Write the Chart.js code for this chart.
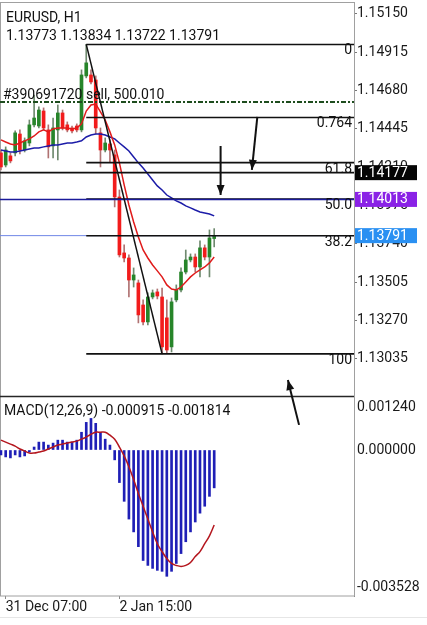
<!DOCTYPE html>
<html>
<head>
<meta charset="utf-8">
<script src="https://cdn.jsdelivr.net/npm/chart.js@4.4.1/dist/chart.umd.min.js"></script>
<style>
  html, body { margin: 0; padding: 0; background: #fff; }
  #wrap { position: relative; width: 427px; height: 617px; border-bottom: 1px solid #e6e6e6; }
</style>
</head>
<body>
<div id="wrap"><canvas id="chart"></canvas></div>
<script>
// EURUSD H1 bars, index 0 = leftmost visible bar
const open = [1.14298, 1.14224, 1.14280, 1.14298, 1.14414, 1.14316, 1.14359, 1.14470, 1.14463, 1.14555,
  1.14439, 1.14341, 1.14439, 1.14543, 1.14470, 1.14451, 1.14463, 1.14439, 1.14770, 1.14776,
  1.14745, 1.14421, 1.14316, 1.14353, 1.14286, 1.14028, 1.13685, 1.13654, 1.13519, 1.13501,
  1.13366, 1.13262, 1.13415, 1.13446, 1.13415, 1.13287, 1.13109, 1.13397, 1.13458, 1.13568,
  1.13642, 1.13660, 1.13599, 1.13716, 1.13660, 1.13773];
const high = [1.14316, 1.14335, 1.14298, 1.14433, 1.14439, 1.14390, 1.14500, 1.14653, 1.14580, 1.14574,
  1.14470, 1.14512, 1.14592, 1.14561, 1.14488, 1.14463, 1.14476, 1.14807, 1.14963, 1.14807,
  1.14770, 1.14451, 1.14390, 1.14378, 1.14316, 1.14071, 1.13734, 1.13673, 1.13593, 1.13519,
  1.13397, 1.13440, 1.13458, 1.13464, 1.13470, 1.13397, 1.13409, 1.13489, 1.13593, 1.13703,
  1.13679, 1.13679, 1.13759, 1.13734, 1.13826, 1.13834];
const low = [1.14194, 1.14212, 1.14237, 1.14280, 1.14292, 1.14304, 1.14341, 1.14457, 1.14451, 1.14439,
  1.14267, 1.14267, 1.14255, 1.14439, 1.14427, 1.14421, 1.14427, 1.14427, 1.14758, 1.14721,
  1.14414, 1.14212, 1.14304, 1.14243, 1.13967, 1.13660, 1.13630, 1.13415, 1.13476, 1.13256,
  1.13244, 1.13244, 1.13403, 1.13403, 1.13066, 1.13072, 1.13078, 1.13385, 1.13446, 1.13556,
  1.13630, 1.13568, 1.13538, 1.13642, 1.13538, 1.13722];
const close = [1.14212, 1.14316, 1.14249, 1.14421, 1.14316, 1.14372, 1.14470, 1.14512, 1.14561, 1.14451,
  1.14335, 1.14451, 1.14543, 1.14451, 1.14439, 1.14433, 1.14439, 1.14776, 1.14850, 1.14733,
  1.14451, 1.14316, 1.14359, 1.14316, 1.14028, 1.13673, 1.13654, 1.13519, 1.13550, 1.13305,
  1.13262, 1.13415, 1.13440, 1.13421, 1.13109, 1.13090, 1.13385, 1.13458, 1.13568, 1.13642,
  1.13660, 1.13599, 1.13716, 1.13660, 1.13777, 1.13791];

// moving averages (red fast, blue slow)
const maFast = [1.14378, 1.14365, 1.14353, 1.14347, 1.14359, 1.14372, 1.14384, 1.14402, 1.14427, 1.14439,
  1.14427, 1.14445, 1.14451, 1.14451, 1.14451, 1.14445, 1.14451, 1.14476, 1.14555, 1.14592,
  1.14598, 1.14549, 1.14500, 1.14427, 1.14347, 1.14237, 1.14102, 1.13979, 1.13875, 1.13783,
  1.13703, 1.13654, 1.13611, 1.13575, 1.13538, 1.13489, 1.13464, 1.13458, 1.13476, 1.13507,
  1.13538, 1.13562, 1.13581, 1.13599, 1.13624, 1.13660];
const maSlow = [1.14316, 1.14310, 1.14304, 1.14304, 1.14310, 1.14316, 1.14322, 1.14328, 1.14328, 1.14335,
  1.14341, 1.14347, 1.14347, 1.14353, 1.14359, 1.14359, 1.14365, 1.14372, 1.14396, 1.14408,
  1.14414, 1.14414, 1.14408, 1.14396, 1.14384, 1.14359, 1.14335, 1.14310, 1.14273, 1.14237,
  1.14206, 1.14169, 1.14132, 1.14096, 1.14071, 1.14040, 1.14022, 1.14004, 1.13991, 1.13973,
  1.13961, 1.13948, 1.13936, 1.13930, 1.13924, 1.13912];

// MACD(12,26,9)
const macd = [-0.000119, -0.000167, -0.000191, -0.000119, -0.000167, -0.000143, -0.000048, 0.000072, 0.000191, 0.000191,
  0.000119, 0.000167, 0.000238, 0.000238, 0.000191, 0.000191, 0.000238, 0.000429, 0.000668, 0.000763,
  0.000644, 0.000429, 0.000262, 0.000119, -0.000238, -0.000787, -0.001240, -0.001669, -0.001979, -0.002336,
  -0.002670, -0.002789, -0.002861, -0.002908, -0.002932, -0.003052, -0.002932, -0.002742, -0.002503, -0.002217,
  -0.001979, -0.001740, -0.001526, -0.001359, -0.001120, -0.000915];
const signal = [0.000238, 0.000191, 0.000143, 0.000095, 0.000024, -0.000024, -0.000072, -0.000072, -0.000048, -0.000024,
  0.000024, 0.000072, 0.000119, 0.000143, 0.000167, 0.000191, 0.000215, 0.000262, 0.000310, 0.000381,
  0.000429, 0.000429, 0.000429, 0.000358, 0.000262, 0.000072, -0.000143, -0.000405, -0.000715, -0.001049,
  -0.001359, -0.001669, -0.001979, -0.002265, -0.002455, -0.002622, -0.002742, -0.002789, -0.002813, -0.002789,
  -0.002718, -0.002575, -0.002455, -0.002265, -0.002074, -0.001814];

// axes
const priceTicks = [1.13035, 1.13270, 1.13505, 1.13740, 1.13975, 1.14210, 1.14445, 1.14680, 1.14915, 1.15150];
const macdTicks = [0.001240, 0.000000, -0.003528];
const timeTickBars = [1, 25];
const timeTickLabels = ['31 Dec 07:00', '2 Jan 15:00'];

// drawn objects
const fibLevels = [0, 0.236, 0.382, 0.5, 0.618, 1];
const fibText = ['0', '0.764', '61.8', '50.0', '38.2', '100'];
const fibHighBar = 18, fibLowBar = 34;
const blackLine = 1.14177;
const blueLine = 1.14013;
const bidPrice = 1.13791;
const orderPrice = 1.14610;
const orderText = '#390691720 sell, 500.010';
// [bar1, price1, bar2, price2], head at the second point
const arrows = [
  [54.1, 1.14519, 52.95, 1.14194],
  [46.35, 1.14341, 46.35, 1.14040],
  [62.9, 1.12631, 60.55, 1.12906]
];
// price tags on the right axis
const tagPrices = [1.14177, 1.14013, 1.13791];
const tagColors = ['#050505', '#8a22e6', '#2a90f2'];

const X_MIN = -0.2, X_MAX = 74.5;
const FONT = 'Roboto, "Noto Sans", sans-serif';

const bars = open.map((o, i) => i);
const pts = arr => arr.map((v, i) => ({ x: i, y: v }));
const seg = (x1, y1, x2, y2) => [{ x: x1, y: y1 }, { x: x2, y: y2 }];
const up = close.map((c, i) => c >= open[i]);

const fibHigh = high[fibHighBar], fibLow = low[fibLowBar];
const fibPrice = fibLevels.map(l => fibHigh - l * (fibHigh - fibLow));

Chart.defaults.elements.point.radius = 0;
Chart.defaults.elements.line.tension = 0;
Chart.defaults.font.family = FONT;

const lineDs = (data, color, width, order, extra) => Object.assign({
  type: 'line', data: data, borderColor: color, borderWidth: width,
  order: order, yAxisID: 'y', clip: false, fill: false
}, extra || {});

let datasets = [];
arrows.forEach(a => datasets.push(lineDs(seg(a[0], a[1], a[2], a[3]), '#111', 2, 1)));
datasets.push(lineDs(seg(fibHighBar, fibHigh, fibLowBar, fibLow), '#111', 1.5, 1));
datasets.push(lineDs(seg(X_MIN, blueLine, X_MAX, blueLine), '#1a1a9a', 1.5, 2));
datasets.push(lineDs(seg(X_MIN, blackLine, X_MAX, blackLine), '#111', 1.7, 2));
fibPrice.forEach(p => datasets.push(lineDs(seg(fibHighBar, p, X_MAX, p), '#111', 1.6, 3)));
datasets.push(lineDs(seg(X_MIN, bidPrice, X_MAX, bidPrice), '#6f86e6', 1, 4));
datasets.push(lineDs(seg(X_MIN, orderPrice, X_MAX, orderPrice), '#1e4d1e', 2, 4, { borderDash: [5, 2, 2, 2] }));
datasets.push(lineDs(pts(maFast), '#e01b1b', 1.5, 5));
datasets.push(lineDs(pts(maSlow), '#1c1ca8', 1.5, 5));
datasets.push({
  type: 'bar', yAxisID: 'y', order: 6, grouped: false, barThickness: 3,
  data: bars.map(i => ({ x: i, y: [open[i], close[i]] })),
  backgroundColor: up.map(u => u ? '#27852a' : '#f21c1c')
});
datasets.push({
  type: 'bar', yAxisID: 'y', order: 7, grouped: false, barThickness: 1,
  data: bars.map(i => ({ x: i, y: [low[i], high[i]] })),
  backgroundColor: up.map(u => u ? '#6f8a6f' : '#b07272')
});
datasets.push({
  type: 'line', yAxisID: 'y2', order: 7, data: pts(signal),
  borderColor: '#b4161e', borderWidth: 1.5, tension: 0.4, fill: false
});
datasets.push({
  type: 'bar', yAxisID: 'y2', order: 8, grouped: false, barThickness: 2,
  data: pts(macd), backgroundColor: '#1f1fb6'
});

const noPad = s => { s.paddingTop = 0; s.paddingBottom = 0; s.paddingLeft = 0; s.paddingRight = 0; };

const overlay = {
  id: 'overlay',
  beforeDatasetsDraw(chart) {
    const c = chart.ctx, a = chart.chartArea, y2 = chart.scales.y2;
    c.save();
    c.strokeStyle = '#a0a0a0';
    c.lineWidth = 1;
    c.strokeRect(a.left + 0.5, a.top - 0.5, a.right - a.left, a.bottom - a.top + 0.5);
    c.strokeStyle = '#262626';
    c.lineWidth = 1.3;
    c.beginPath();
    c.moveTo(a.left, y2.top + 0.5);
    c.lineTo(a.right, y2.top + 0.5);
    c.stroke();
    c.restore();
  },
  afterDraw(chart) {
    const c = chart.ctx, a = chart.chartArea;
    const xs = chart.scales.x, ys = chart.scales.y;
    c.save();
    c.fillStyle = '#111';
    c.font = '14px ' + FONT;
    c.textBaseline = 'alphabetic';
    c.textAlign = 'left';
    c.fillText('EURUSD, H1', 6, 22);
    c.fillText([open[45], high[45], low[45], close[45]].map(v => v.toFixed(5)).join(' '), 6, 40);
    c.fillText(orderText, 3, ys.getPixelForValue(orderPrice) - 3);
    c.fillText('MACD(12,26,9) ' + macd[45].toFixed(6) + ' ' + signal[45].toFixed(6), 4, 415);

    // fibo level captions
    c.textAlign = 'right';
    fibPrice.forEach((p, k) => {
      c.fillText(fibText[k], a.right - 2, ys.getPixelForValue(p) + 10);
    });

    // arrow heads
    c.fillStyle = '#111';
    arrows.forEach(ar => {
      const x1 = xs.getPixelForValue(ar[0]), y1 = ys.getPixelForValue(ar[1]);
      const x2 = xs.getPixelForValue(ar[2]), y2 = ys.getPixelForValue(ar[3]);
      const ang = Math.atan2(y2 - y1, x2 - x1);
      const L = 10, W = 4;
      c.beginPath();
      c.moveTo(x2, y2);
      c.lineTo(x2 - L * Math.cos(ang) + W * Math.sin(ang), y2 - L * Math.sin(ang) - W * Math.cos(ang));
      c.lineTo(x2 - L * Math.cos(ang) - W * Math.sin(ang), y2 - L * Math.sin(ang) + W * Math.cos(ang));
      c.closePath();
      c.fill();
    });

    // price tags
    c.textAlign = 'left';
    c.textBaseline = 'middle';
    tagPrices.forEach((p, k) => {
      const y = ys.getPixelForValue(p);
      c.fillStyle = tagColors[k];
      c.fillRect(a.right + 1, y - 7.5, 62, 15);
      c.fillStyle = '#fff';
      c.fillText(p.toFixed(5), a.right + 3, y + 0.5);
    });
    c.restore();
  }
};

new Chart(document.getElementById('chart'), {
  type: 'bar',
  data: { datasets: datasets },
  options: {
    responsive: true,
    maintainAspectRatio: false,
    animation: false,
    events: [],
    layout: { padding: { top: 3, left: 0, right: 0, bottom: 0 } },
    plugins: { legend: { display: false }, tooltip: { enabled: false } },
    scales: {
      x: {
        type: 'linear', min: X_MIN, max: X_MAX, position: 'bottom', offset: false,
        grid: { display: true, offset: false, drawOnChartArea: false, tickLength: 3, color: '#888' },
        border: { display: false },
        afterBuildTicks: s => { s.ticks = timeTickBars.map(v => ({ value: v })); },
        afterFit: s => { s.height = 21; noPad(s); },
        ticks: {
          autoSkip: false, maxRotation: 0, align: 'start', padding: 0,
          color: '#1a1a1a', font: { size: 14 },
          callback: v => { const k = timeTickBars.indexOf(v); return k >= 0 ? timeTickLabels[k] : ''; }
        }
      },
      y: {
        type: 'linear', position: 'right', stack: 'panes', stackWeight: 393,
        min: 1.12808, max: 1.15217,
        grid: { display: true, drawOnChartArea: false, tickLength: 3, color: '#777' },
        border: { display: true, color: '#7a7a7a', width: 1 },
        afterBuildTicks: s => { s.ticks = priceTicks.map(v => ({ value: v })); },
        afterFit: s => { s.width = 73; noPad(s); },
        ticks: { padding: 0, color: '#1a1a1a', font: { size: 14 }, callback: v => v.toFixed(5) }
      },
      y2: {
        type: 'linear', position: 'right', stack: 'panes', stackWeight: 200,
        min: macdTicks[2], max: 0.001305,
        grid: { display: true, drawOnChartArea: false, tickLength: 3, color: 'rgba(0,0,0,0)' },
        border: { display: true, color: '#7a7a7a', width: 1 },
        afterBuildTicks: s => { s.ticks = macdTicks.map(v => ({ value: v })); },
        afterFit: s => { s.width = 73; noPad(s); },
        ticks: {
          padding: 0, color: '#1a1a1a', font: { size: 14 },
          callback: v => {
            const t = v.toFixed(6);
            if (v === macdTicks[0]) return ['', t];
            if (v === macdTicks[2]) return [t, ''];
            return t;
          }
        }
      }
    }
  },
  plugins: [overlay]
});
</script>
</body>
</html>
